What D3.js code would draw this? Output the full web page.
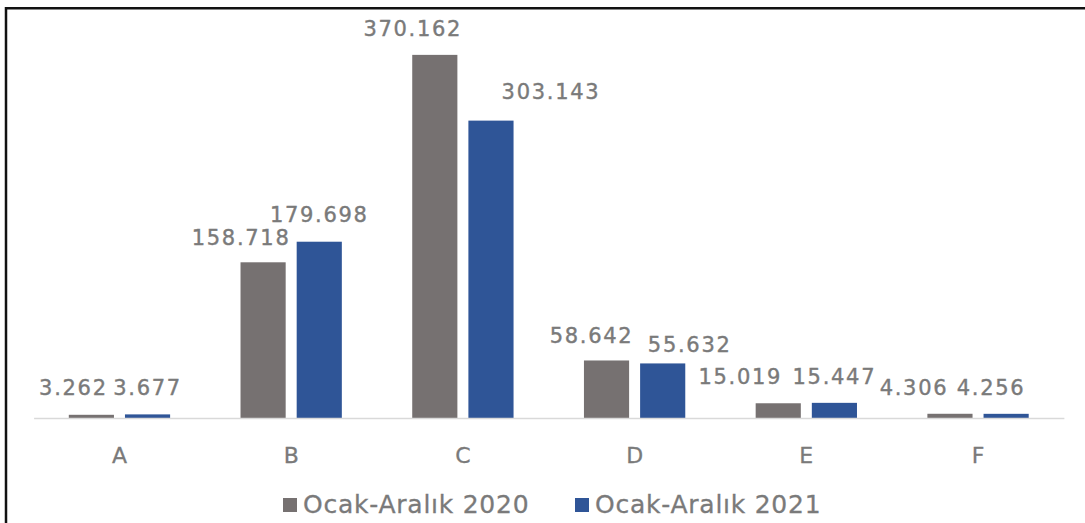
<!DOCTYPE html>
<html>
<head>
<meta charset="utf-8">
<script src="https://cdn.jsdelivr.net/npm/d3@7"></script>
<style>
  html, body { margin: 0; padding: 0; background: #fff; }
  svg { display: block; }
</style>
</head>
<body>
<svg id="chart" width="1085" height="523"></svg>
<script>
// ---- data ----
const categories = ["A", "B", "C", "D", "E", "F"];
const seriesNames = ["Ocak-Aralık 2020", "Ocak-Aralık 2021"];
const values2020 = [3.262, 158.718, 370.162, 58.642, 15.019, 4.306];
const values2021 = [3.677, 179.698, 303.143, 55.632, 15.447, 4.256];
const labels2020 = ["3.262", "158.718", "370.162", "58.642", "15.019", "4.306"];
const labels2021 = ["3.677", "179.698", "303.143", "55.632", "15.447", "4.256"];

// ---- layout tweaks for the data labels (manually moved in the original) ----
const labelDx2020 = [-18, -22, -22, -15, -38, -36];
const labelDx2021 = [0, 0, 60, 27, 0, -15];
const labelGap2020 = [20, 17, 19, 17, 19, 19];
const labelGap2021 = [19, 20, 22, 11, 19, 19];

const colors = ["#767171", "#2F5597"];
const textColor = "#7a7a7a";
const fontFamily = "'DejaVu Sans', sans-serif";

const svg = d3.select("#chart");

// frame (only left and top edges are visible in the crop)
svg.append("path")
  .attr("d", "M6,523 V8.3 H1085")
  .attr("fill", "none")
  .attr("stroke", "#111")
  .attr("stroke-width", 2.5);

const x0 = d3.scaleBand()
  .domain(categories)
  .range([33.6, 1063.9])
  .paddingInner(0.41)
  .paddingOuter(0.205);

const x1 = d3.scaleBand()
  .domain(seriesNames)
  .range([0, x0.bandwidth()])
  .paddingInner(0.196);

const y = d3.scaleLinear().domain([0, 400]).range([418, 25.6]);

const rows = categories.map((c, i) => ({
  cat: c,
  items: [
    { s: seriesNames[0], v: values2020[i], label: labels2020[i], dx: labelDx2020[i], gap: labelGap2020[i], color: colors[0] },
    { s: seriesNames[1], v: values2021[i], label: labels2021[i], dx: labelDx2021[i], gap: labelGap2021[i], color: colors[1] }
  ]
}));

const groups = svg.append("g").selectAll("g")
  .data(rows)
  .join("g")
  .attr("transform", d => `translate(${x0(d.cat)},0)`);

groups.selectAll("rect")
  .data(d => d.items)
  .join("rect")
  .attr("x", d => x1(d.s))
  .attr("y", d => y(d.v))
  .attr("width", x1.bandwidth())
  .attr("height", d => y(0) - y(d.v))
  .attr("fill", d => d.color);

groups.selectAll("text.val")
  .data(d => d.items)
  .join("text")
  .attr("class", "val")
  .attr("x", d => x1(d.s) + x1.bandwidth() / 2 + d.dx)
  .attr("y", d => y(d.v) - d.gap)
  .attr("text-anchor", "middle")
  .attr("font-family", fontFamily)
  .attr("font-size", 21)
  .attr("letter-spacing", 1.7)
  .attr("fill", textColor)
  .attr("stroke", textColor)
  .attr("stroke-width", 0.4)
  .text(d => d.label);

// x axis
const xAxis = d3.axisBottom(x0).tickSize(0).tickPadding(0);
const ax = svg.append("g")
  .attr("transform", `translate(0,${y(0)})`)
  .call(xAxis);
ax.select(".domain")
  .attr("stroke", "#d9d9d9")
  .attr("stroke-width", 1.3);
ax.selectAll(".tick text")
  .attr("font-family", fontFamily)
  .attr("font-size", 22)
  .attr("fill", textColor)
  .attr("stroke", textColor)
  .attr("stroke-width", 0.3)
  .attr("dy", 0)
  .attr("y", 45)
  .attr("dominant-baseline", "auto");

// legend
const legendItems = [
  { name: seriesNames[0], color: colors[0], x: 283 },
  { name: seriesNames[1], color: colors[1], x: 575 }
];
const lg = svg.append("g").selectAll("g")
  .data(legendItems)
  .join("g")
  .attr("transform", d => `translate(${d.x},0)`);
lg.append("rect")
  .attr("x", 0)
  .attr("y", 498)
  .attr("width", 14)
  .attr("height", 14)
  .attr("fill", d => d.color);
lg.append("text")
  .attr("x", 20)
  .attr("y", 513)
  .attr("font-family", fontFamily)
  .attr("font-size", 25)
  .attr("letter-spacing", 0.75)
  .attr("fill", textColor)
  .attr("stroke", textColor)
  .attr("stroke-width", 0.3)
  .text(d => d.name);
</script>
</body>
</html>
